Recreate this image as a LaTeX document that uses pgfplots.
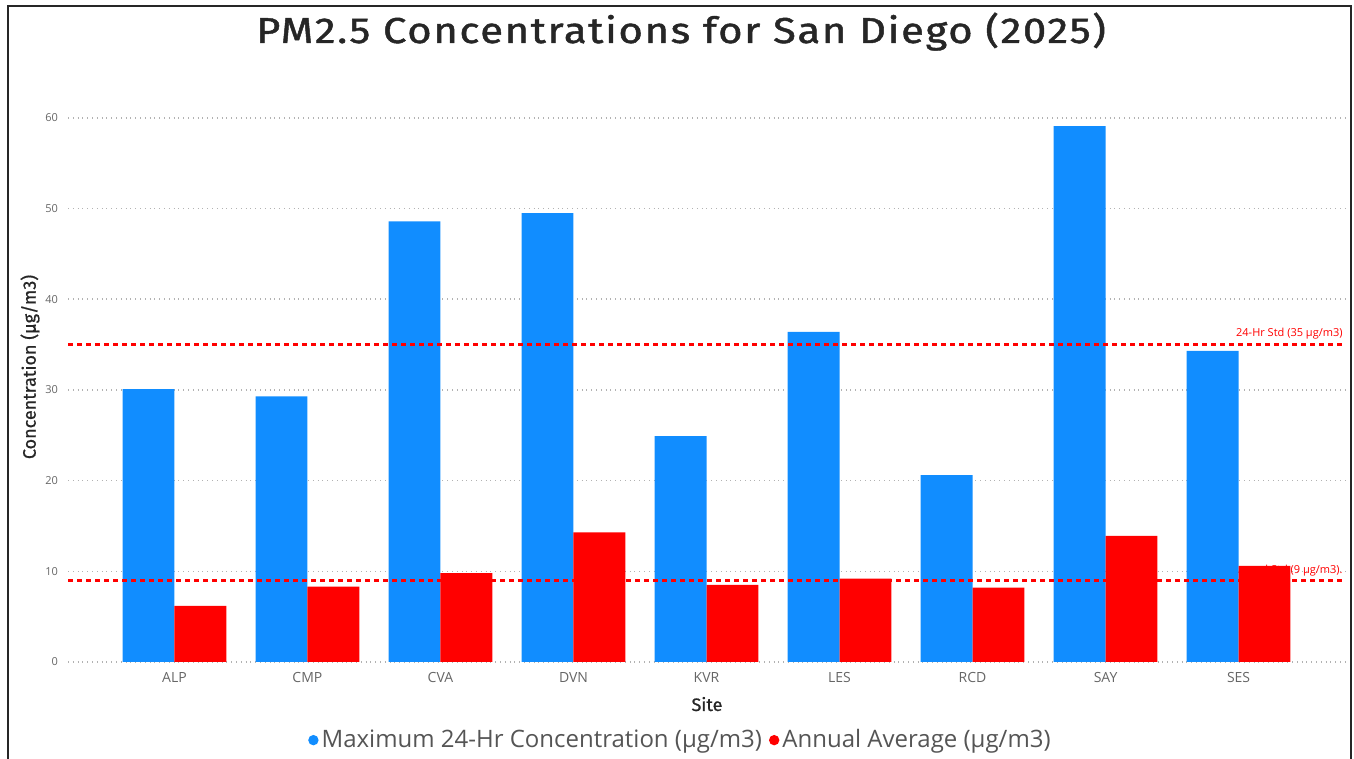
\documentclass[border=0pt]{standalone}
\usepackage{pgfplots}
\pgfplotsset{compat=1.18}
\usepackage{fontspec}
\setmainfont{Open Sans}
\newfontfamily\titlefont[LetterSpace=4, FakeBold=1.2]{Fira Sans}
\newfontfamily\labelfont[FakeBold=0.8]{Fira Sans}
\definecolor{pbblue}{HTML}{118DFF}
\definecolor{pbred}{HTML}{FF0000}
\definecolor{tickgrey}{HTML}{666666}
\definecolor{legtext}{HTML}{555555}
\begin{document}
\begin{tikzpicture}
\path[use as bounding box] (-34pt,-48.5pt) rectangle (643pt,331pt);
\draw[line width=1pt, black!85] (-30pt,-49pt) -- (-30pt,328pt) -- (641.5pt,328pt) -- (641.5pt,-49pt);
\node[font=\titlefont\fontsize{18}{20}\selectfont, anchor=base, text=black!85] at (306.5pt,309.5pt) {\scalebox{1.16}[1]{PM2.5 Concentrations for San Diego (2025)}};
\begin{axis}[
  scale only axis, width=638.5pt, height=281.1pt,
  xmin=-0.8, xmax=8.8, ymin=0, ymax=62,
  axis line style={draw=none},
  major tick length=0pt,
  xtick={0,1,2,3,4,5,6,7,8},
  xticklabels={ALP,CMP,CVA,DVN,KVR,LES,RCD,SAY,SES},
  ytick={0,10,20,30,40,50,60},
  ymajorgrids,
  grid style={dotted, line width=0.8pt, black!30},
  /pgf/number format/assume math mode=true,
  xticklabel style={font=\fontsize{7}{8}\selectfont, text=tickgrey, yshift=-1.5pt},
  yticklabel style={font=\fontsize{5.5}{6}\selectfont, text=tickgrey, xshift=-1.5pt},
  legend style={at={(axis description cs:0.48,-0.139)}, anchor=center, draw=none, fill=none,
    legend columns=2, font=\fontsize{12}{13}\selectfont, text=legtext,
    /tikz/every even column/.append style={column sep=2pt}, inner sep=0pt,
    nodes={inner xsep=1.5pt}},
  legend cell align=left,
]
\node[anchor=base east, inner sep=0pt, text=pbred, font=\fontsize{5.5}{6}\selectfont] at (axis cs:8.8,35) [xshift=-1pt, yshift=4pt] {24-Hr Std (35 µg/m3)};
\node[anchor=base east, inner sep=0pt, text=pbred, font=\fontsize{5.5}{6}\selectfont] at (axis cs:8.8,9) [xshift=-1pt, yshift=3.5pt] {Annual Std (9 µg/m3).};
\addplot[ybar, bar width=0.39, bar shift=-0.195, fill=pbblue, draw=none,
  legend image code/.code={\fill[pbblue] (0.25cm,0pt) circle (2.6pt);}]
  coordinates {(0,30.1) (1,29.3) (2,48.6) (3,49.5) (4,24.9) (5,36.4) (6,20.6) (7,59.1) (8,34.3)};
\addlegendentry{Maximum 24-Hr Concentration (µg/m3)}
\addplot[ybar, bar width=0.39, bar shift=0.195, fill=pbred, draw=none,
  legend image code/.code={\fill[pbred] (0.25cm,0pt) circle (2.6pt);}]
  coordinates {(0,6.2) (1,8.3) (2,9.8) (3,14.3) (4,8.5) (5,9.2) (6,8.2) (7,13.9) (8,10.6)};
\addlegendentry{Annual Average (µg/m3)}
\addplot[pbred, line width=1.5pt, dash pattern=on 2.5pt off 2pt, forget plot] coordinates {(-0.8,35) (8.8,35)};
\addplot[pbred, line width=1.5pt, dash pattern=on 2.5pt off 2pt, forget plot] coordinates {(-0.8,9) (8.8,9)};
\end{axis}
\node[font=\labelfont\fontsize{9}{10}\selectfont, anchor=base, text=black!85] at (319.5pt,-24.5pt) {Site};
\node[font=\labelfont\fontsize{9}{10}\selectfont, rotate=90, anchor=center, text=black!85] at (-19pt,147.5pt) {Concentration (µg/m3)};
\end{tikzpicture}
\end{document}
